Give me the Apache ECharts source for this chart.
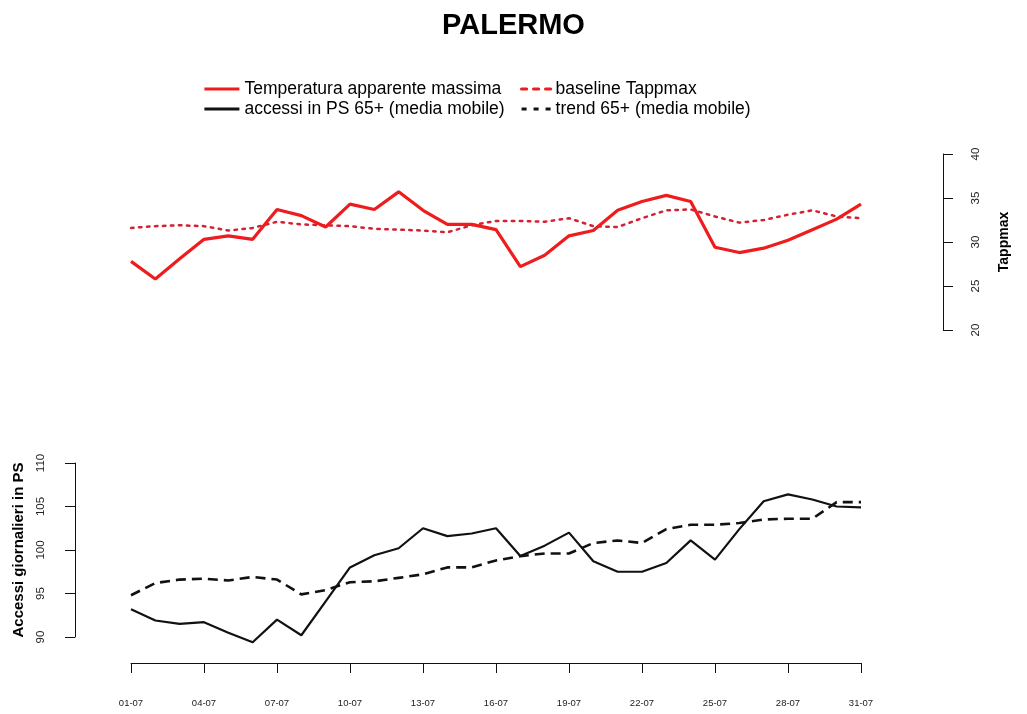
<!DOCTYPE html>
<html>
<head>
<meta charset="utf-8">
<title>PALERMO</title>
<script src="https://cdn.jsdelivr.net/npm/echarts@6/dist/echarts.min.js"></script>
<style>
  html, body { margin: 0; padding: 0; background: #fff; }
  #chart { width: 1027px; height: 714px; }
</style>
</head>
<body>
<div id="chart"></div>
<script>
// Days of July
const days = ['01-07','02-07','03-07','04-07','05-07','06-07','07-07','08-07','09-07','10-07',
              '11-07','12-07','13-07','14-07','15-07','16-07','17-07','18-07','19-07','20-07',
              '21-07','22-07','23-07','24-07','25-07','26-07','27-07','28-07','29-07','30-07','31-07'];

// Maximum apparent temperature and its baseline (°C)
const tappmax = [27.8, 25.8, 28.1, 30.3, 30.7, 30.3, 33.7, 33.0, 31.7, 34.3,
                 33.7, 35.7, 33.6, 32.0, 32.0, 31.4, 27.2, 28.5, 30.7, 31.3,
                 33.6, 34.6, 35.3, 34.6, 29.4, 28.8, 29.3, 30.2, 31.4, 32.6, 34.3];
const baseline = [31.6, 31.8, 31.9, 31.8, 31.3, 31.6, 32.3, 32.0, 31.9, 31.8,
                  31.5, 31.4, 31.3, 31.1, 31.9, 32.4, 32.4, 32.3, 32.7, 31.8,
                  31.7, 32.7, 33.6, 33.7, 32.9, 32.2, 32.5, 33.1, 33.6, 32.9, 32.7];

// Daily ER visits, people aged 65+ (moving average) and trend
const accessi = [93.2, 91.9, 91.5, 91.7, 90.5, 89.4, 92.0, 90.2, 94.1, 98.0,
                 99.4, 100.2, 102.5, 101.6, 101.9, 102.5, 99.3, 100.5, 102.0, 98.7,
                 97.5, 97.5, 98.5, 101.1, 98.9, 102.4, 105.6, 106.4, 105.8, 105.0, 104.9];
const trend = [94.8, 96.2, 96.6, 96.7, 96.5, 96.9, 96.6, 94.9, 95.4, 96.3,
               96.4, 96.8, 97.2, 98.0, 98.0, 98.8, 99.3, 99.6, 99.6, 100.8,
               101.1, 100.8, 102.4, 102.9, 102.9, 103.1, 103.5, 103.6, 103.6, 105.5, 105.5];

// Axis ranges
const tempRange = { min: 20, max: 40, step: 5 };
const visitRange = { min: 90, max: 110, step: 5 };

const FONT = '"Liberation Sans", Arial, sans-serif';
const RED = '#ee1c1c';
const RED_DOT = '#d42033';
const INK = '#111';

const chart = echarts.init(document.getElementById('chart'), null, { renderer: 'canvas' });

const axisLineStyle = { show: true, lineStyle: { color: INK, width: 1 } };
const legendText = { fontFamily: FONT, fontSize: 17.5, color: '#000', lineHeight: 20 };

chart.setOption({
  animation: false,
  backgroundColor: '#fff',
  title: {
    text: 'PALERMO',
    left: 'center',
    top: 6,
    textStyle: { fontFamily: FONT, fontSize: 29, fontWeight: 'bold', color: '#000' }
  },
  legend: [
    {
      orient: 'vertical',
      left: 203,
      top: 79,
      padding: 0,
      itemWidth: 35,
      itemHeight: 14,
      itemGap: 0,
      itemStyle: { opacity: 0 },
      textStyle: legendText,
      data: [
        { name: 'Temperatura apparente massima', lineStyle: { width: 2.8 } },
        { name: 'accessi in PS 65+ (media mobile)', lineStyle: { width: 2.8 } }
      ]
    },
    {
      orient: 'vertical',
      left: 520,
      top: 79,
      padding: 0,
      itemWidth: 29,
      itemHeight: 14,
      itemGap: 0,
      itemStyle: { opacity: 0 },
      textStyle: legendText,
      data: [
        { name: 'baseline Tappmax', lineStyle: { width: 3.2, type: [5, 7], color: RED } },
        { name: 'trend 65+ (media mobile)', lineStyle: { width: 3.2, type: [5, 7] } }
      ]
    }
  ],
  grid: [
    { left: 131, right: 166, top: 154, height: 176, outerBoundsMode: 'none' },
    { left: 131, right: 166, top: 463, height: 174, outerBoundsMode: 'none' }
  ],
  xAxis: [
    {
      gridIndex: 0,
      type: 'category',
      data: days,
      boundaryGap: false,
      show: false
    },
    {
      gridIndex: 1,
      type: 'category',
      data: days,
      boundaryGap: false,
      offset: 26,
      axisLine: axisLineStyle,
      axisTick: { show: true, interval: 2, length: 10, lineStyle: { color: INK } },
      axisLabel: { interval: 2, margin: 35, fontFamily: FONT, fontSize: 9.5, color: '#222' },
      splitLine: { show: false }
    }
  ],
  yAxis: [
    {
      gridIndex: 0,
      type: 'value',
      position: 'right',
      min: tempRange.min,
      max: tempRange.max,
      interval: tempRange.step,
      offset: 82,
      name: 'Tappmax',
      nameLocation: 'middle',
      nameGap: 54,
      nameTextStyle: { fontFamily: FONT, fontSize: 14, fontWeight: 'bold', color: '#000' },
      axisLine: axisLineStyle,
      axisTick: { show: true, length: 10, lineStyle: { color: INK } },
      axisLabel: { rotate: 90, margin: 27, fontFamily: FONT, fontSize: 11.5, color: '#222' },
      splitLine: { show: false }
    },
    {
      gridIndex: 1,
      type: 'value',
      position: 'left',
      min: visitRange.min,
      max: visitRange.max,
      interval: visitRange.step,
      offset: 56,
      name: 'Accessi giornalieri in PS',
      nameLocation: 'middle',
      nameGap: 49,
      nameTextStyle: { fontFamily: FONT, fontSize: 15, fontWeight: 'bold', color: '#000' },
      axisLine: axisLineStyle,
      axisTick: { show: true, length: 10, lineStyle: { color: INK } },
      axisLabel: { rotate: 90, margin: 28, fontFamily: FONT, fontSize: 11.5, color: '#222' },
      splitLine: { show: false }
    }
  ],
  series: [
    {
      name: 'baseline Tappmax',
      type: 'line',
      xAxisIndex: 0,
      yAxisIndex: 0,
      data: baseline,
      symbol: 'none',
      clip: false,
      color: RED_DOT,
      lineStyle: { color: RED_DOT, width: 2.5, type: [2.5, 5.5], cap: 'round' }
    },
    {
      name: 'Temperatura apparente massima',
      type: 'line',
      xAxisIndex: 0,
      yAxisIndex: 0,
      data: tappmax,
      symbol: 'none',
      clip: false,
      color: RED,
      lineStyle: { color: RED, width: 3.2 }
    },
    {
      name: 'trend 65+ (media mobile)',
      type: 'line',
      xAxisIndex: 1,
      yAxisIndex: 1,
      data: trend,
      symbol: 'none',
      clip: false,
      color: INK,
      lineStyle: { color: INK, width: 2.6, type: [10, 6] }
    },
    {
      name: 'accessi in PS 65+ (media mobile)',
      type: 'line',
      xAxisIndex: 1,
      yAxisIndex: 1,
      data: accessi,
      symbol: 'none',
      clip: false,
      color: INK,
      lineStyle: { color: INK, width: 2.2 }
    }
  ]
});
</script>
</body>
</html>
